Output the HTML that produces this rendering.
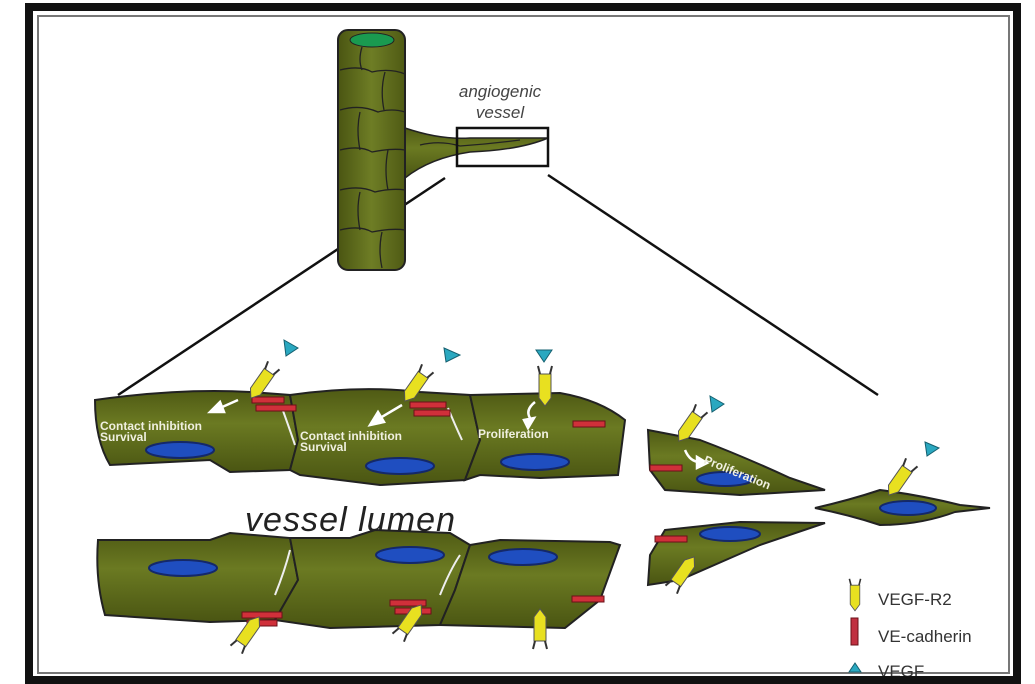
<!DOCTYPE html>
<html><head><meta charset="utf-8"><style>
html,body{margin:0;padding:0;background:#fff;}
svg{display:block;}
text{font-family:"Liberation Sans",sans-serif;}
</style></head><body>
<svg width="1035" height="684" viewBox="0 0 1035 684" xmlns="http://www.w3.org/2000/svg">
<defs>
<linearGradient id="g" x1="0" y1="0" x2="0" y2="1">
<stop offset="0" stop-color="#4f5a14"/><stop offset="0.4" stop-color="#6b7a22"/><stop offset="1" stop-color="#4a5512"/>
</linearGradient>
<linearGradient id="gv" x1="0" y1="0" x2="1" y2="0">
<stop offset="0" stop-color="#4a5512"/><stop offset="0.5" stop-color="#6e7d25"/><stop offset="1" stop-color="#4f5a14"/>
</linearGradient>
<g id="rec">
<path d="M-6,-16 L6,-16 L6,8 L0,16 L-6,8 Z" fill="#e8e020" stroke="#555" stroke-width="1"/>
<path d="M-5,-16 L-7,-24 M5,-16 L7,-24" stroke="#333" stroke-width="2"/>
</g>
</defs>
<rect x="0" y="0" width="1035" height="684" fill="#fff"/>
<rect x="29" y="7" width="988" height="673" fill="none" stroke="#111" stroke-width="8"/>
<rect x="38" y="16" width="971" height="657" fill="none" stroke="#777" stroke-width="2"/>

<line x1="118" y1="395" x2="445" y2="178" stroke="#111" stroke-width="2.5"/>
<line x1="548" y1="175" x2="878" y2="395" stroke="#111" stroke-width="2.5"/>

<path d="M405,128 Q440,140 470,138 L548,138 Q520,150 470,152 Q430,158 405,178 Z" fill="url(#g)" stroke="#222" stroke-width="1.5"/>
<rect x="338" y="30" width="67" height="240" rx="10" fill="url(#gv)" stroke="#222" stroke-width="2"/>
<ellipse cx="372" cy="40" rx="22" ry="7" fill="#1a9a50" stroke="#222"/>
<g stroke="#222" stroke-width="1.3" fill="none">
<path d="M340,70 Q360,65 372,72 Q390,68 405,74"/>
<path d="M340,110 Q360,104 378,112 Q392,108 405,112"/>
<path d="M340,150 Q360,145 372,152 Q392,148 405,150"/>
<path d="M340,190 Q360,185 375,192 Q392,188 405,190"/>
<path d="M340,230 Q360,225 372,232 Q392,228 405,230"/>
<path d="M362,47 Q358,60 362,70 M385,72 Q380,90 384,110 M360,112 Q356,130 360,150 M388,150 Q384,170 388,190 M360,192 Q356,210 360,230 M382,232 Q378,250 382,268"/>
<path d="M420,145 Q440,140 460,146 Q490,144 520,140"/>
</g>
<rect x="457" y="128" width="91" height="38" fill="none" stroke="#111" stroke-width="2.5"/>
<text x="500" y="97" font-size="17" font-style="italic" fill="#444" text-anchor="middle">angiogenic</text>
<text x="500" y="118" font-size="17" font-style="italic" fill="#444" text-anchor="middle">vessel</text>

<path d="M95,400 Q180,388 250,392 L290,395 L298,440 L290,470 L230,472 L210,460 L110,465 Q95,440 95,400 Z" fill="url(#g)" stroke="#222" stroke-width="2"/>
<path d="M290,395 Q360,385 420,392 L470,395 L480,440 L465,480 L380,485 L300,475 L290,470 L298,440 Z" fill="url(#g)" stroke="#222" stroke-width="2"/>
<path d="M470,395 L560,393 Q600,400 625,420 L618,475 L540,478 L480,475 L465,480 L480,440 Z" fill="url(#g)" stroke="#222" stroke-width="2"/>
<path d="M648,430 L700,440 Q740,455 790,478 L825,490 L740,495 L665,490 L650,470 Z" fill="url(#g)" stroke="#222" stroke-width="2"/>
<path d="M815,508 Q850,500 880,490 Q920,495 960,505 L990,508 L955,512 Q920,525 880,525 Q850,515 815,508 Z" fill="url(#g)" stroke="#222" stroke-width="2"/>
<path d="M98,540 L210,540 L230,533 L290,538 L298,580 L275,620 L210,622 L105,615 Q95,580 98,540 Z" fill="url(#g)" stroke="#222" stroke-width="2"/>
<path d="M290,538 L350,538 L375,530 L450,533 L470,545 L455,590 L440,625 L330,628 L275,620 L298,580 Z" fill="url(#g)" stroke="#222" stroke-width="2"/>
<path d="M470,545 L500,540 L610,542 L620,545 L600,600 L565,628 L440,625 L455,590 Z" fill="url(#g)" stroke="#222" stroke-width="2"/>
<path d="M665,530 L740,522 L825,523 L760,545 L680,580 L648,585 L650,555 Z" fill="url(#g)" stroke="#222" stroke-width="2"/>

<g fill="#1f4ec0" stroke="#14286a" stroke-width="2">
<ellipse cx="180" cy="450" rx="34" ry="8"/>
<ellipse cx="400" cy="466" rx="34" ry="8"/>
<ellipse cx="535" cy="462" rx="34" ry="8"/>
<ellipse cx="725" cy="479" rx="28" ry="7"/>
<ellipse cx="908" cy="508" rx="28" ry="7"/>
<ellipse cx="183" cy="568" rx="34" ry="8"/>
<ellipse cx="410" cy="555" rx="34" ry="8"/>
<ellipse cx="523" cy="557" rx="34" ry="8"/>
<ellipse cx="730" cy="534" rx="30" ry="7"/>
</g>

<g stroke="#eee" stroke-width="2" fill="none">
<path d="M282,408 Q290,430 295,445"/><path d="M448,408 Q455,425 462,440"/>
<path d="M275,595 Q285,570 290,550"/><path d="M440,595 Q450,570 460,555"/>
</g>

<g fill="#d0303a" stroke="#6a1018" stroke-width="1">
<rect x="252" y="397" width="32" height="6"/><rect x="256" y="405" width="40" height="6"/>
<rect x="410" y="402" width="36" height="6"/><rect x="414" y="410" width="36" height="6"/>
<rect x="573" y="421" width="32" height="6"/>
<rect x="650" y="465" width="32" height="6"/>
<rect x="655" y="536" width="32" height="6"/>
<rect x="242" y="612" width="40" height="6"/><rect x="247" y="620" width="30" height="6"/>
<rect x="390" y="600" width="36" height="6"/><rect x="395" y="608" width="36" height="6"/>
<rect x="572" y="596" width="32" height="6"/>
<rect x="851" y="618" width="7" height="27" fill="#c03040"/>
</g>

<use href="#rec" transform="translate(260,385) rotate(35)"/>
<use href="#rec" transform="translate(414,388) rotate(35)"/>
<use href="#rec" transform="translate(545,390)"/>
<use href="#rec" transform="translate(688,428) rotate(35)"/>
<use href="#rec" transform="translate(898,482) rotate(35)"/>
<use href="#rec" transform="translate(250,630) rotate(-145)"/>
<use href="#rec" transform="translate(412,618) rotate(-145)"/>
<use href="#rec" transform="translate(540,625) rotate(180)"/>
<use href="#rec" transform="translate(685,570) rotate(-145)"/>
<use href="#rec" transform="translate(855,598) scale(0.8)"/>

<g fill="#2aa8c0" stroke="#156070" stroke-width="1">
<path d="M284,340 L298,348 L286,356 Z"/>
<path d="M444,348 L460,355 L446,362 Z"/>
<path d="M536,350 L552,350 L544,362 Z"/>
<path d="M710,396 L724,404 L712,412 Z"/>
<path d="M925,442 L939,448 L927,456 Z"/>
<path d="M849,672 L855,663 L861,672 Z"/>
</g>

<g stroke="#fff" stroke-width="2.5" fill="#fff">
<line x1="238" y1="400" x2="220" y2="408"/><path d="M210,412 L220,402 L224,412 Z"/>
<line x1="402" y1="405" x2="380" y2="418"/><path d="M370,425 L378,412 L384,422 Z"/>
<path d="M535,402 Q525,410 530,418" fill="none"/><path d="M524,420 L534,418 L528,428 Z"/>
<path d="M685,450 Q690,462 700,462" fill="none"/><path d="M697,457 L707,463 L697,468 Z"/>
</g>

<g fill="#f0f0e0" font-size="12" font-weight="bold">
<text x="100" y="430">Contact inhibition</text>
<text x="100" y="441">Survival</text>
<text x="300" y="440">Contact inhibition</text>
<text x="300" y="451">Survival</text>
<text x="478" y="438">Proliferation</text>
<text x="703" y="463" transform="rotate(22 703 463)">Proliferation</text>
</g>
<text x="245" y="531" font-size="34" font-style="italic" fill="#222" textLength="210">vessel lumen</text>
<g font-size="17" fill="#333">
<text x="878" y="605">VEGF-R2</text>
<text x="878" y="642">VE-cadherin</text>
<text x="878" y="677">VEGF</text>
</g>
<rect x="33" y="676" width="980" height="8" fill="#111"/>
</svg>
</body></html>
